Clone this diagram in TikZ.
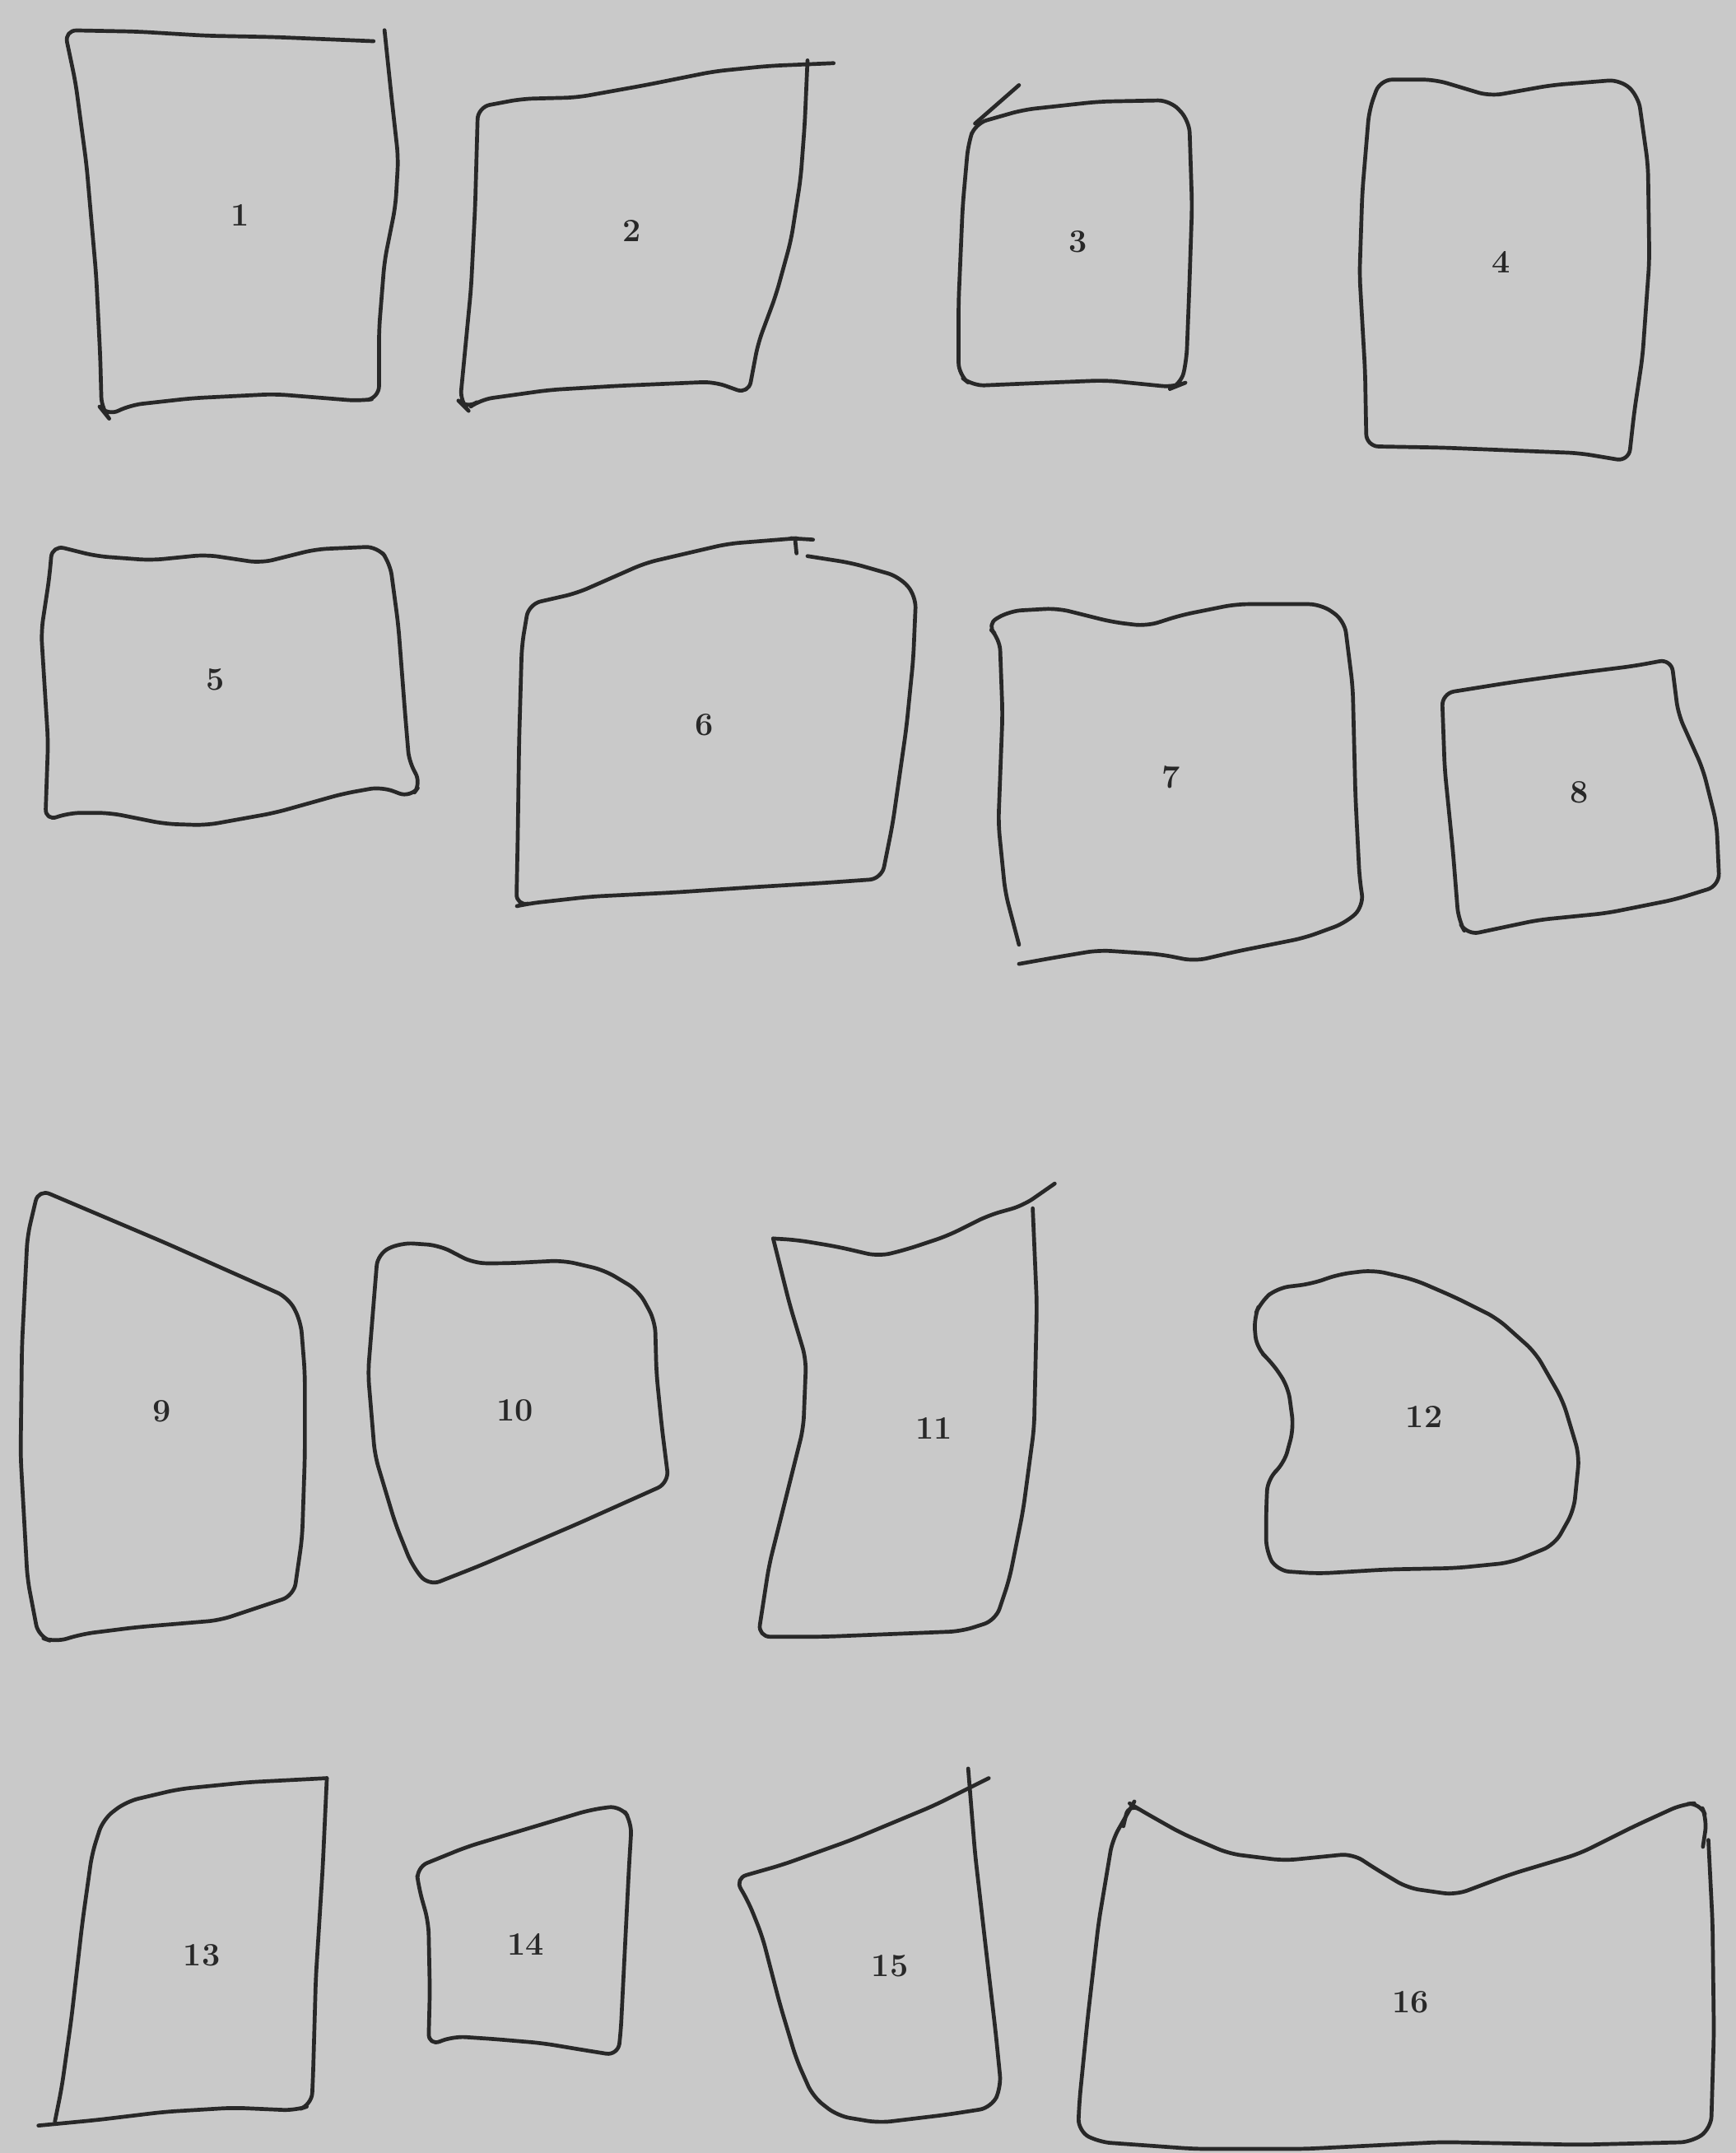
\documentclass[tikz,border=0pt]{standalone}
\usepackage{tikz}
\definecolor{fondo}{RGB}{201,201,201}
\definecolor{tratto}{RGB}{40,40,40}
\tikzset{
  bordo/.style={draw=tratto, line width=1.6pt, rounded corners=5pt, line join=round, line cap=round},
  numero/.style={text=tratto, font=\fontsize{13.5}{15}\selectfont\bfseries}
}
\begin{document}
\begin{tikzpicture}[x=0.02cm, y=-0.02cm]
        % fondo
        \fill[fondo] (0,0) rectangle (1264,1568);
        \useasboundingbox (0,0) rectangle (1264,1568);

        % frammento 1
        \draw[bordo] (272,30) -- (200,27) -- (150,26) -- (100,23) -- (47,22) -- (55,60) -- (63,120) -- (70,200) -- (73,260) -- (74,298) -- (78,303) -- (95,295) -- (140,290) -- (200,287) -- (262,292) -- (276,290) -- (276,240) -- (280,190) -- (288,150) -- (290,115) -- (285,70) -- (280,22);
        \node[numero] (p1) at (175,157) {1};

        % frammento 2
        \draw[bordo] (607,46) -- (560,48) -- (520,52) -- (470,62) -- (420,71) -- (380,72) -- (348,78) -- (346,150) -- (343,210) -- (338,262) -- (335,293) -- (340,298) -- (350,291) -- (400,284) -- (450,281) -- (520,278) -- (545,287) -- (552,250) -- (565,215) -- (576,175) -- (583,130) -- (586,90) -- (588,44);
        \node[numero] (p2) at (460,168) {2};

        % frammento 3
        \draw[bordo] (742,62) -- (710,90);
        \draw[bordo] (710,90) -- (745,80) -- (800,74) -- (852,73) -- (866,88) -- (868,150) -- (866,210) -- (864,262) -- (860,280) -- (855,282) -- (805,277) -- (755,279) -- (708,281) -- (698,273) -- (698,220) -- (701,150) -- (705,105) -- cycle;
        \node[numero] (p3) at (785,176) {3};

        % frammento 4
        \draw[bordo] (1005,58) -- (1045,58) -- (1085,70) -- (1130,62) -- (1180,58) -- (1193,70) -- (1200,120) -- (1201,190) -- (1196,260) -- (1190,300) -- (1186,336) -- (1150,330) -- (1100,328) -- (1050,326) -- (995,325) -- (994,270) -- (990,200) -- (992,140) -- (997,80) -- cycle;
        \node[numero] (p4) at (1093,191) {4};

        % frammento 5
        \draw[bordo] (38,397) -- (70,405) -- (110,408) -- (150,404) -- (190,410) -- (230,400) -- (275,398) -- (284,410) -- (290,455) -- (295,520) -- (298,556) -- (307,570) -- (299,581) -- (278,573) -- (250,578) -- (200,592) -- (150,601) -- (120,600) -- (80,592) -- (50,592) -- (33,598) -- (35,540) -- (30,460) -- (36,420) -- cycle;
        \node[numero] (p5) at (157,495) {5};

        % frammento 6
        \draw[bordo] (580,392) -- (530,396) -- (470,410) -- (420,432) -- (385,440) -- (380,470) -- (378,540) -- (377,610) -- (376,660) -- (385,658) -- (430,653) -- (490,650) -- (550,646) -- (600,643) -- (642,640) -- (650,600) -- (660,530) -- (665,480) -- (667,434) -- (655,420) -- (620,410) -- (588,405);
        \draw[bordo] (576,392) -- (592,393);
        \draw[bordo] (579,393) -- (580,403);
        \node[numero] (p6) at (513,528) {6};

        % frammento 7
        \draw[bordo] (742,688) -- (732,650) -- (727,600) -- (730,520) -- (728,465) -- (718,455) -- (735,445) -- (770,443) -- (810,453) -- (835,456) -- (860,448) -- (900,440) -- (962,440) -- (979,452) -- (985,500) -- (987,580) -- (990,640) -- (993,660) -- (980,672) -- (950,683) -- (900,693) -- (870,700) -- (845,695) -- (800,692) -- (770,697) -- (742,702);
        \node[numero] (p7) at (853,566) {7};

        % frammento 8
        \draw[bordo] (1050,505) -- (1100,497) -- (1150,490) -- (1190,485) -- (1217,480) -- (1222,520) -- (1240,560) -- (1250,600) -- (1252,645) -- (1220,655) -- (1170,665) -- (1120,670) -- (1068,681) -- (1062,670) -- (1058,620) -- (1052,560) -- cycle;
        \node[numero] (p8) at (1150,577) {8};

        % frammento 9
        \draw[bordo] (28,866) -- (120,905) -- (210,945) -- (219,962) -- (222,1000) -- (222,1060) -- (220,1120) -- (214,1162) -- (160,1180) -- (100,1185) -- (60,1190) -- (40,1196) -- (28,1192) -- (20,1150) -- (15,1060) -- (16,980) -- (20,900) -- cycle;
        \node[numero] (p9) at (118,1028) {9};

        % frammento 10
        \draw[bordo] (275,913) -- (292,905) -- (320,907) -- (345,920) -- (370,920) -- (410,918) -- (440,925) -- (465,940) -- (477,962) -- (478,1000) -- (482,1040) -- (487,1080) -- (420,1110) -- (350,1140) -- (312,1155) -- (300,1140) -- (288,1110) -- (273,1060) -- (268,1000) -- (272,950) -- cycle;
        \node[numero] (p10) at (375,1027) {10};

        % frammento 11
        \draw[bordo] (768,862) -- (745,878) -- (720,885) -- (690,900) -- (660,910) -- (640,915) -- (610,908) -- (580,903) -- (563,902);
        \draw[bordo] (563,902) -- (575,950) -- (587,990) -- (585,1040) -- (570,1100) -- (560,1140) -- (552,1192) -- (600,1192) -- (650,1190) -- (700,1188) -- (725,1180) -- (735,1150) -- (745,1100) -- (753,1040) -- (755,950) -- (752,880);
        \node[numero] (p11) at (680,1040) {11};

        % frammento 12
        \draw[bordo] (918,948) -- (930,938) -- (955,935) -- (975,928) -- (1000,925) -- (1030,932) -- (1060,945) -- (1090,960) -- (1118,985) -- (1138,1020) -- (1150,1060) -- (1146,1100) -- (1132,1125) -- (1100,1138) -- (1060,1142) -- (1010,1143) -- (960,1146) -- (930,1144) -- (922,1130) -- (922,1100) -- (923,1077) -- (935,1066) -- (942,1040) -- (938,1010) -- (926,992) -- (915,982) -- (913,960) -- cycle;
        \node[numero] (p12) at (1037,1032) {12};

        % frammento 13
        \draw[bordo] (28,1548) -- (70,1544) -- (120,1538) -- (170,1535) -- (215,1537) -- (227,1533) -- (228,1510) -- (230,1440) -- (235,1360) -- (238,1295);
        \draw[bordo] (238,1295) -- (180,1298) -- (130,1303) -- (92,1312) -- (75,1325) -- (67,1350) -- (60,1400) -- (52,1470) -- (45,1520) -- (40,1545);
        \node[numero] (p13) at (147,1424) {13};

        % frammento 14
        \draw[bordo] (303,1360) -- (340,1345) -- (390,1330) -- (430,1318) -- (452,1315) -- (460,1327) -- (458,1360) -- (455,1420) -- (452,1480) -- (450,1497) -- (425,1493) -- (395,1488) -- (360,1485) -- (330,1483) -- (312,1490) -- (313,1450) -- (312,1400) -- (305,1375) -- cycle;
        \node[numero] (p14) at (383,1416) {14};

        % frammento 15
        \draw[bordo] (720,1295) -- (680,1315) -- (620,1340) -- (570,1358) -- (535,1368) -- (545,1385) -- (555,1410) -- (568,1460) -- (580,1500) -- (592,1527) -- (610,1541) -- (640,1546) -- (690,1540) -- (722,1535) -- (729,1520) -- (725,1480) -- (718,1420) -- (710,1350) -- (705,1288);
        \node[numero] (p15) at (648,1432) {15};

        % frammento 16
        \draw[bordo] (818,1330) -- (822,1313) -- (830,1318) -- (860,1335) -- (895,1350) -- (935,1355) -- (985,1350) -- (1000,1360) -- (1025,1375) -- (1060,1380) -- (1100,1365) -- (1150,1350) -- (1190,1330) -- (1225,1314) -- (1238,1313) -- (1243,1325) -- (1240,1345);
        \draw[bordo] (826,1312) -- (810,1340) -- (800,1400) -- (792,1470) -- (786,1530) -- (785,1552) -- (800,1560) -- (870,1565) -- (950,1565) -- (1050,1560) -- (1150,1562) -- (1232,1560) -- (1246,1550) -- (1248,1480) -- (1247,1400) -- (1244,1340);
        \node[numero] (p16) at (1027,1458) {16};
    \end{tikzpicture}
\end{document}
